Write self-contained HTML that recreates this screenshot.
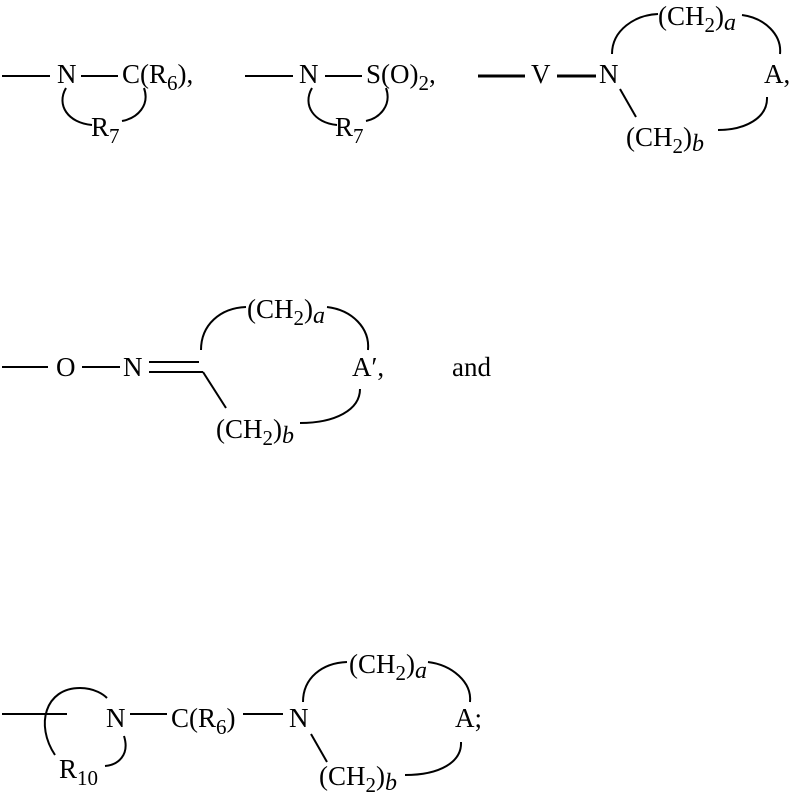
<!DOCTYPE html>
<html><head><meta charset="utf-8"><style>
html,body{margin:0;padding:0;background:#fff;}
svg{display:block;}
text{font-family:"Liberation Serif",serif;font-size:27px;fill:#000;}
.s{font-size:21px;}
.i{font-style:italic;font-size:24px;}
</style></head><body>
<svg width="807" height="795" viewBox="0 0 807 795" xmlns="http://www.w3.org/2000/svg">
<g stroke="#000" stroke-width="2" fill="none">
<line x1="2" y1="76" x2="50" y2="76"/>
<line x1="81" y1="76" x2="118" y2="76"/>
<path d="M66,88 C56,105 68,123 92,125"/>
<path d="M144,88 C150,105 138,118 122,121"/>
<line x1="245" y1="76" x2="293" y2="76"/>
<line x1="325" y1="76" x2="362" y2="76"/>
<path d="M312,88 C302,105 314,123 337,125"/>
<path d="M386,88 C392,105 380,118 366,121"/>
<line x1="478" y1="76" x2="525" y2="76" stroke-width="3"/>
<line x1="557" y1="76" x2="596" y2="76" stroke-width="3"/>
<path d="M612,54 C612,30 635,15 658,14"/>
<path d="M742,15 C765,18 782,35 780,54"/>
<line x1="620" y1="89" x2="636" y2="117"/>
<path d="M767,97 C768,118 745,130 718,130"/>
<line x1="2" y1="367" x2="48" y2="367"/>
<line x1="82" y1="367" x2="120" y2="367"/>
<line x1="149" y1="362" x2="199" y2="362"/>
<line x1="149" y1="372" x2="203" y2="372"/>
<line x1="203" y1="372" x2="226" y2="408"/>
<path d="M201,350 C201,325 220,308 246,307"/>
<path d="M327,307 C352,310 370,328 368,350"/>
<path d="M360,389 C360,410 335,423 300,423"/>
<line x1="2" y1="714" x2="67" y2="714"/>
<path d="M55,755 C35,725 45,688 80,688 C95,688 104,695 107,698"/>
<path d="M124,736 C130,755 118,765 105,766"/>
<line x1="130" y1="714" x2="167" y2="714"/>
<line x1="243" y1="714" x2="283" y2="714"/>
<path d="M303,702 C303,678 322,663 347,662"/>
<path d="M428,662 C452,665 472,682 470,702"/>
<line x1="311" y1="734" x2="327" y2="762"/>
<path d="M461,742 C462,762 440,775 405,775"/>
</g>
<text x="57" y="83">N</text>
<text x="122" y="83">C(R<tspan class="s" dy="7">6</tspan><tspan dy="-7">),</tspan></text>
<text x="91" y="136">R<tspan class="s" dy="7">7</tspan></text>
<text x="299" y="83">N</text>
<text x="366" y="83">S(O)<tspan class="s" dy="7">2</tspan><tspan dy="-7">,</tspan></text>
<text x="335" y="136">R<tspan class="s" dy="7">7</tspan></text>
<text x="531" y="83">V</text>
<text x="599" y="83">N</text>
<text x="658" y="25">(CH<tspan class="s" dy="7">2</tspan><tspan dy="-7">)</tspan><tspan class="i" dy="5">a</tspan></text>
<text x="764" y="83">A,</text>
<text x="626" y="146">(CH<tspan class="s" dy="7">2</tspan><tspan dy="-7">)</tspan><tspan class="i" dy="5">b</tspan></text>
<text x="56" y="376">O</text>
<text x="123" y="376">N</text>
<text x="247" y="318">(CH<tspan class="s" dy="7">2</tspan><tspan dy="-7">)</tspan><tspan class="i" dy="5">a</tspan></text>
<text x="352" y="376">A′,</text>
<text x="452" y="376">and</text>
<text x="216" y="438">(CH<tspan class="s" dy="7">2</tspan><tspan dy="-7">)</tspan><tspan class="i" dy="5">b</tspan></text>
<text x="106" y="727">N</text>
<text x="171" y="727">C(R<tspan class="s" dy="7">6</tspan><tspan dy="-7">)</tspan></text>
<text x="289" y="727">N</text>
<text x="349" y="673">(CH<tspan class="s" dy="7">2</tspan><tspan dy="-7">)</tspan><tspan class="i" dy="5">a</tspan></text>
<text x="455" y="727">A;</text>
<text x="59" y="778">R<tspan class="s" dy="7">10</tspan></text>
<text x="319" y="785">(CH<tspan class="s" dy="7">2</tspan><tspan dy="-7">)</tspan><tspan class="i" dy="5">b</tspan></text>
</svg>
</body></html>
